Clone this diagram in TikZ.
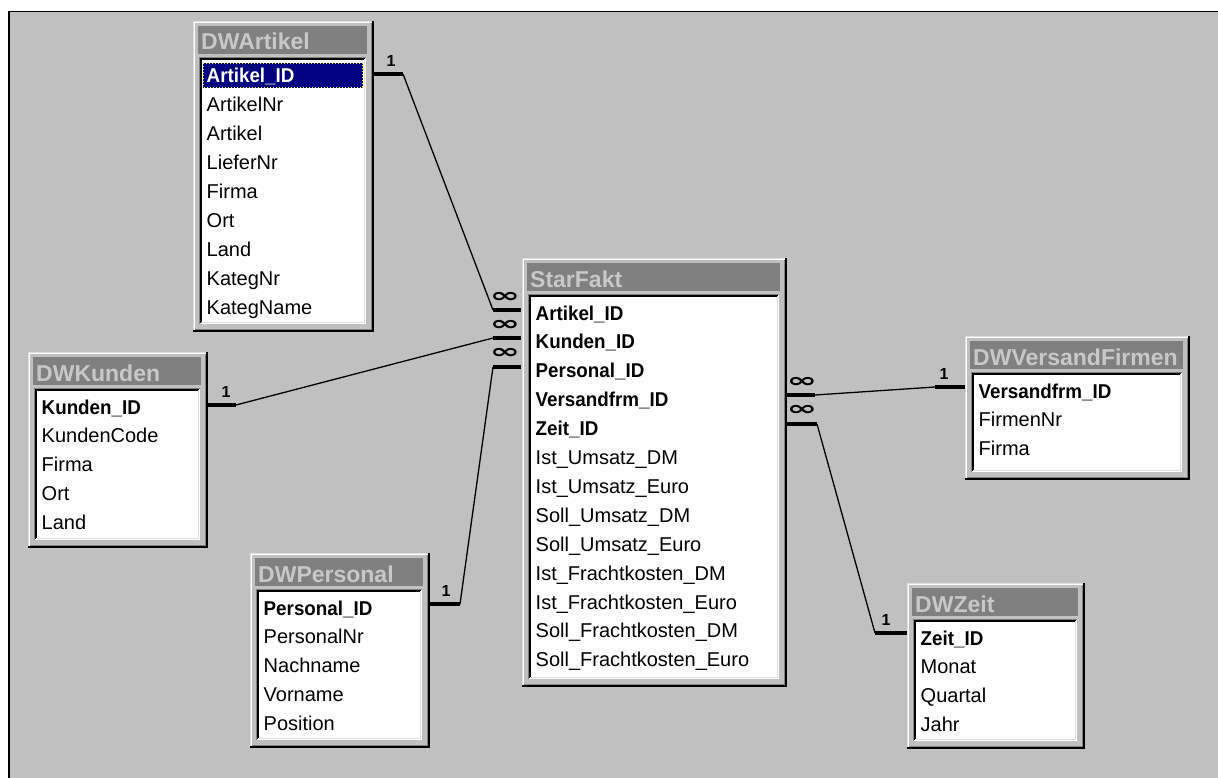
\documentclass[tikz,border=0pt]{standalone}
\usepackage{fontspec}
\setmainfont{Liberation Sans}
\newfontfamily\rowbold[FakeStretch=0.94]{Liberation Sans Bold}
\newfontfamily\titlefont{Liberation Sans Bold}
\newfontfamily\symfont{DejaVu Sans Bold}

\definecolor{winface}{RGB}{192,192,192}
\definecolor{windark}{RGB}{128,128,128}
\definecolor{winlight}{RGB}{223,223,223}
\definecolor{selnavy}{RGB}{0,0,128}
\definecolor{titletxt}{RGB}{200,200,200}

\tikzset{
  rowtext/.style={anchor=base west, inner sep=0pt, font=\fontsize{20}{20}\selectfont},
  titletext/.style={anchor=base west, inner sep=0pt, text=titletxt, font=\titlefont\fontsize{23}{23}\selectfont},
  stub/.style={line width=4pt, line cap=butt},
  link/.style={line width=1.3pt, line join=miter},
  onelabel/.style={inner sep=0pt, font=\titlefont\fontsize{16}{16}\selectfont},
  manylabel/.style={inner sep=0pt, font=\symfont\fontsize{25}{25}\selectfont},
}
\newcommand\manymark{\scalebox{1.45}[0.8]{∞}}

% \dbtable{name}{left}{top}{right}{bottom}{title}{rows as text/kind}
% kind: n = plain field, b = key field, h = selected key field
\newcommand\dbtable[7]{%
  \fill[winface] (#2,#3) rectangle (#4,#5);
  % raised window frame
  \draw[winlight, line width=1pt] (#2+0.5,#5-1) -- (#2+0.5,#3+0.5) -- (#4-1,#3+0.5);
  \draw[white, line width=1pt] (#2+1.5,#5-2) -- (#2+1.5,#3+1.5) -- (#4-2,#3+1.5);
  \draw[black, line width=2pt] (#2,#5-1) -- (#4-1,#5-1) -- (#4-1,#3);
  \draw[windark, line width=1pt] (#2+2,#5-2.5) -- (#4-2.5,#5-2.5) -- (#4-2.5,#3+2);
  % caption bar
  \fill[windark] (#2+5,#3+5) rectangle (#4-7,#3+33);
  \node[titletext] (#1) at (#2+8,#3+29) {#6};
  % sunken field list
  \fill[white] (#2+6,#3+36) rectangle (#4-8,#5-8);
  \draw[windark, line width=1pt] (#2+6.5,#5-8) -- (#2+6.5,#3+36.5) -- (#4-8,#3+36.5);
  \draw[black, line width=1.5pt] (#2+8,#5-9) -- (#2+8,#3+38) -- (#4-9,#3+38);
  \draw[winlight, line width=1pt] (#2+8,#5-9.5) -- (#4-9.5,#5-9.5) -- (#4-9.5,#3+38);
  \foreach \t/\s [count=\i from 0] in {#7} {
    \pgfmathsetmacro\ry{#3+55+\i*28.9}
    \if h\s
      \fill[selnavy] (#2+10,\ry-13) rectangle (#4-11,\ry+12);
      \draw[yellow, dotted, line width=1pt] (#2+10.5,\ry-12.5) rectangle (#4-11.5,\ry+11.5);
      \def\rf{\rowbold\color{white}}%
    \else\if b\s
      \def\rf{\rowbold}%
    \else
      \def\rf{}%
    \fi\fi
    \node[rowtext] (#1-\i) at (#2+13.5,\ry+7) {\rf\t};
  }
}

\begin{document}
\begin{tikzpicture}[x=1pt, y=-1pt]
\useasboundingbox (0,0) rectangle (1218,778);
% window background
\fill[white] (0,0) rectangle (1218,778);
\fill[winface] (8,11) rectangle (1218,778);
\draw[black, line width=1.5pt] (8.75,778) -- (8.75,11.75) -- (1218,11.75);

% tables
\dbtable{art}{193}{21}{374}{332}{DWArtikel}{Artikel\_ID/h, ArtikelNr/n, Artikel/n, LieferNr/n, Firma/n, Ort/n, Land/n, KategNr/n, KategName/n}
\dbtable{kun}{28}{352}{208}{548}{DWKunden}{Kunden\_ID/b, KundenCode/n, Firma/n, Ort/n, Land/n}
\dbtable{per}{250}{553}{430}{748}{DWPersonal}{Personal\_ID/b, PersonalNr/n, Nachname/n, Vorname/n, Position/n}
\dbtable{fak}{522}{258}{787}{687}{StarFakt}{Artikel\_ID/b, Kunden\_ID/b, Personal\_ID/b, Versandfrm\_ID/b, Zeit\_ID/b, Ist\_Umsatz\_DM/n, Ist\_Umsatz\_Euro/n, Soll\_Umsatz\_DM/n, Soll\_Umsatz\_Euro/n, Ist\_Frachtkosten\_DM/n, Ist\_Frachtkosten\_Euro/n, Soll\_Frachtkosten\_DM/n, Soll\_Frachtkosten\_Euro/n}
\dbtable{ver}{965}{336}{1190}{480}{DWVersandFirmen}{Versandfrm\_ID/b, FirmenNr/n, Firma/n}
\dbtable{zeit}{907}{583}{1085}{749}{DWZeit}{Zeit\_ID/b, Monat/n, Quartal/n, Jahr/n}

% relationship end points
\coordinate (artA) at (374,74);  \coordinate (artB) at (403,74);
\coordinate (fk1A) at (521,310); \coordinate (fk1B) at (493,310);
\coordinate (kunA) at (208,405); \coordinate (kunB) at (236,405);
\coordinate (fk2A) at (521,338); \coordinate (fk2B) at (493,338);
\coordinate (perA) at (430,604); \coordinate (perB) at (460,604);
\coordinate (fk3A) at (521,367); \coordinate (fk3B) at (493,367);
\coordinate (fk4A) at (787,395); \coordinate (fk4B) at (815,395);
\coordinate (verA) at (965,387); \coordinate (verB) at (935,387);
\coordinate (fk5A) at (787,424); \coordinate (fk5B) at (817,424);
\coordinate (zeitA) at (907,633); \coordinate (zeitB) at (875,633);

% one-to-many joins
\draw[stub] (artA) -- (artB);  \draw[link] (artB) -- (fk1B);  \draw[stub] (fk1B) -- (fk1A);
\draw[stub] (kunA) -- (kunB);  \draw[link] (kunB) -- (fk2B);  \draw[stub] (fk2B) -- (fk2A);
\draw[stub] (perA) -- (perB);  \draw[link] (perB) -- (fk3B);  \draw[stub] (fk3B) -- (fk3A);
\draw[stub] (fk4A) -- (fk4B);  \draw[link] (fk4B) -- (verB);  \draw[stub] (verB) -- (verA);
\draw[stub] (fk5A) -- (fk5B);  \draw[link] (fk5B) -- (zeitB); \draw[stub] (zeitB) -- (zeitA);

% cardinality marks
\node[onelabel] (l1) at (391,61) {1};
\node[onelabel] (l2) at (226,392) {1};
\node[onelabel] (l3) at (446,591) {1};
\node[onelabel] (l4) at (944,374) {1};
\node[onelabel] (l5) at (886,620) {1};
\node[manylabel] (m1) at (505,297) {\manymark};
\node[manylabel] (m2) at (505,325) {\manymark};
\node[manylabel] (m3) at (505,353) {\manymark};
\node[manylabel] (m4) at (802,382) {\manymark};
\node[manylabel] (m5) at (802,410) {\manymark};
\end{tikzpicture}
\end{document}
